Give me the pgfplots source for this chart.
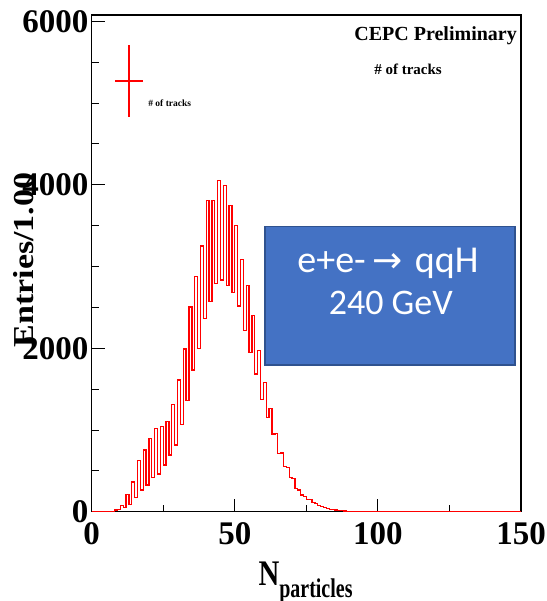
\documentclass[border=0pt]{standalone}
\usepackage{graphicx}
\usepackage{pgfplots}
\pgfplotsset{compat=1.18}
\usepackage{fontspec}
\setmainfont{Liberation Serif}
\newfontfamily\calibri{Carlito}
\newfontfamily\dejavu{DejaVu Sans}
\definecolor{boxblue}{HTML}{4472C4}
\definecolor{boxedge}{HTML}{2F528F}
\definecolor{histred}{RGB}{255,0,0}
\begin{document}
\begin{tikzpicture}
\useasboundingbox (-91.7pt,-89.3pt) rectangle (454.3pt,511.7pt);
\begin{axis}[
  at={(0pt,0pt)}, anchor=south west,
  scale only axis, width=429.3pt, height=496.7pt,
  xmin=0, xmax=150, ymin=0, ymax=6077,
  xtick={0,50,100,150}, ytick={0,2000,4000,6000},
  minor x tick num=1, minor y tick num=3,
  tick align=inside, tick pos=left,
  major tick length=13pt, minor tick length=7pt,
  axis line style={line width=1.1pt},
  every tick/.style={black, line width=0.9pt},
  tick label style={font=\bfseries\fontsize{33}{33}\selectfont},
  /pgf/number format/assume math mode=true,
  /pgf/number format/1000 sep={},
  scaled y ticks=false,
  xticklabel style={inner sep=0pt, anchor=north, yshift=-11pt},
  yticklabel style={inner sep=0pt, anchor=east, xshift=-3pt},
  clip=false,
  legend style={at={(rel axis cs:0.0543,0.9396)}, anchor=north west, draw=none, fill=none,
    inner sep=0pt, outer sep=0pt, column sep=0pt, row sep=0pt,
    font=\bfseries\fontsize{9.5}{9.5}\selectfont, nodes={inner sep=0pt, outer sep=0pt}},
  legend image code/.code={
    \fill[histred, draw=none] (0pt,22pt) rectangle (28.3pt,24pt);
    \fill[histred, draw=none] (13pt,-13.2pt) rectangle (15pt,59.2pt);
    \path (32.7pt,0pt);
  },
]
\addplot[const plot mark left, draw=histred, line width=1.3pt, mark=none] coordinates {
(0,0) (8,20) (9,30) (10,80) (11,55) (12,210) (13,90) (14,365) (15,170) (16,625) (17,265)
(18,755) (19,325) (20,895) (21,415) (22,1020) (23,460) (24,1040) (25,570) (26,1100) (27,695)
(28,1315) (29,815) (30,1610) (31,1070) (32,1990) (33,1360) (34,2505) (35,1735) (36,2880)
(37,2000) (38,3250) (39,2365) (40,3805) (41,2570) (42,3805) (43,2795) (44,4055) (45,2835)
(46,3995) (47,2770) (48,3750) (49,2680) (50,3505) (51,2515) (52,3085) (53,2215) (54,2770)
(55,1945) (56,2400) (57,1685) (58,1970) (59,1375) (60,1580) (61,1155) (62,1265) (63,950)
(64,960) (65,715) (66,720) (67,555) (68,540) (69,420) (70,410) (71,280) (72,265) (73,205)
(74,190) (75,150) (76,150) (77,115) (78,100) (79,75) (80,62) (81,50) (82,40) (83,30)
(84,25) (85,20) (86,15) (87,12) (88,8) (89,6) (90,5) (91,4) (92,3) (93,2) (94,2) (95,1)
(96,1) (97,0) (150,0)
};
\addlegendentry{\# of tracks}
\end{axis}
\fill[boxblue, draw=boxedge, line width=1.5pt] (173.3pt,146.7pt) rectangle (423.3pt,285pt);
\node[anchor=base, inner sep=0pt, text=white, font=\calibri\fontsize{38}{38}\selectfont] at (296.3pt,239pt) {e+e-\,{\dejavu\fontsize{36}{36}\selectfont →}\,\,qqH};
\node[anchor=base, inner sep=0pt, text=white, font=\calibri\fontsize{36}{36}\selectfont] at (299.1pt,197.4pt) {240 GeV};
\node[anchor=base east, inner sep=0pt, font=\bfseries\fontsize{20}{20}\selectfont] at (425.3pt,471.4pt) {CEPC Preliminary};
\node[anchor=base, inner sep=0pt, font=\bfseries\fontsize{15}{15}\selectfont] at (316.3pt,436.7pt) {\# of tracks};
\node[rotate=90, anchor=base, inner sep=0pt, font=\bfseries\fontsize{34}{34}\selectfont] at (-57.7pt,251.7pt) {\scalebox{1}[0.85]{Entries/1.00}};
\node[anchor=base west, inner sep=0pt, font=\bfseries] at (166.6pt,-74.3pt) {\scalebox{0.8}[1]{\fontsize{36}{36}\selectfont N}\raisebox{-12pt}{\scalebox{0.74}[1]{\fontsize{27}{27}\selectfont particles}}};
\end{tikzpicture}
\end{document}
